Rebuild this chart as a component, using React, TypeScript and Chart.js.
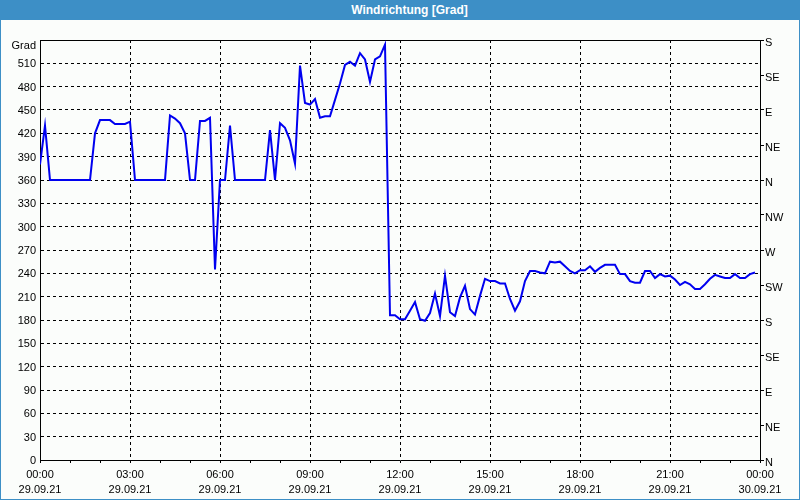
import React, { useEffect, useRef } from 'react';
import { Chart, registerables } from 'chart.js';

Chart.register(...registerables);

const TITLE = 'Windrichtung [Grad]';
const Y_UNIT = 'Grad';
const X_TICK_TIMES = ['00:00', '03:00', '06:00', '09:00', '12:00', '15:00', '18:00', '21:00', '00:00'];
const X_TICK_DATES = ['29.09.21', '29.09.21', '29.09.21', '29.09.21', '29.09.21', '29.09.21', '29.09.21', '29.09.21', '30.09.21'];
const COMPASS_LABELS = ['N', 'NE', 'E', 'SE', 'S', 'SW', 'W', 'NW', 'N', 'NE', 'E', 'SE', 'S'];
const SAMPLE_STEP_MIN = 10;

// wind direction, one value every 10 minutes from 29.09.21 00:00
const DIRECTION = [
  380, 430, 360, 360, 360, 360, 360, 360, 360, 360,
  360, 420, 437, 437, 437, 432, 432, 432, 435, 360,
  360, 360, 360, 360, 360, 360, 443, 439, 433, 420,
  360, 360, 436, 436, 440, 245, 360, 360, 430, 360,
  360, 360, 360, 360, 360, 360, 424, 360, 433, 427,
  411, 381, 507, 459, 457, 464, 440, 442, 442, 463,
  484, 508, 512, 507, 523, 515, 486, 515, 519, 534,
  186, 186, 181, 181, 192, 203, 181, 179, 189, 214,
  185, 237, 190, 185, 209, 224, 194, 187, 211, 233,
  230, 230, 227, 227, 207, 192, 204, 230, 243, 243,
  241, 240, 255, 254, 255, 249, 243, 240, 244, 244,
  249, 242, 247, 251, 251, 251, 239, 239, 230, 228,
  228, 243, 243, 234, 239, 236, 237, 232, 225, 229,
  226, 220, 220, 226, 233, 238, 236, 234, 234, 239,
  234, 234, 239, 241,
];

const framePlugin = {
  id: 'frame',
  beforeDatasetsDraw(chart: any) {
    const { ctx, chartArea } = chart;
    ctx.save();
    ctx.strokeStyle = '#000';
    ctx.lineWidth = 1;
    ctx.beginPath();
    ctx.moveTo(chartArea.left, Math.floor(chartArea.top) + 0.5);
    ctx.lineTo(chartArea.right + 1, Math.floor(chartArea.top) + 0.5);
    ctx.stroke();
    ctx.restore();
  },
  afterDraw(chart: any) {
    const { ctx, chartArea } = chart;
    ctx.save();
    ctx.font = '11px "Liberation Sans", Arial, sans-serif';
    ctx.fillStyle = '#000';
    ctx.textAlign = 'right';
    ctx.textBaseline = 'middle';
    ctx.fillText(Y_UNIT, chartArea.left - 4, chartArea.top + 6);
    ctx.restore();
  },
};

export default function App() {
  const ref = useRef<HTMLCanvasElement | null>(null);

  useEffect(() => {
    document.body.style.margin = '0';
    Chart.defaults.font.family = '"Liberation Sans", Arial, sans-serif';
    Chart.defaults.font.size = 11;
    Chart.defaults.color = '#000';

    const points = DIRECTION.map((v, i) => ({ x: i * SAMPLE_STEP_MIN, y: v }));

    const chart = new Chart(ref.current as HTMLCanvasElement, {
      type: 'line',
      data: {
        datasets: [
          {
            data: points,
            borderColor: '#0000f0',
            borderWidth: 2,
            pointRadius: 0,
            tension: 0,
            fill: false,
          },
        ],
      },
      options: {
        animation: false,
        responsive: false,
        events: [],
        layout: { padding: { top: 20, left: 0, right: 0, bottom: 0 } },
        plugins: {
          legend: { display: false },
          tooltip: { enabled: false },
          title: { display: false },
        },
        scales: {
          x: {
            type: 'linear',
            position: 'bottom',
            min: 0,
            max: 1440,
            afterFit: (s: any) => {
              s.height = 39;
            },
            ticks: {
              stepSize: 60,
              autoSkip: false,
              maxRotation: 0,
              minRotation: 0,
              padding: 4,
              color: '#000',
              font: { size: 11, lineHeight: 1.4 },
              callback: (v: any) => {
                const m = Math.round(Number(v));
                if (m % 180 !== 0) return '';
                const i = m / 180;
                return [X_TICK_TIMES[i], X_TICK_DATES[i]];
              },
            },
            grid: {
              color: (ctx: any) =>
                ctx.tick && Math.round(ctx.tick.value) % 180 === 0 ? '#000' : 'rgba(0,0,0,0)',
              tickColor: '#000',
              tickLength: 3,
              lineWidth: 1,
            },
            border: { color: '#000', width: 1, dash: [3, 3] },
          },
          y: {
            position: 'left',
            min: 0,
            max: 540,
            afterFit: (s: any) => {
              s.width = 39;
            },
            ticks: {
              stepSize: 30,
              padding: 4,
              labelOffset: 1,
              color: '#000',
              callback: (v: any) => (Number(v) >= 540 ? '' : String(v)),
            },
            grid: { color: '#000', drawTicks: false, lineWidth: 1 },
            border: { color: '#000', width: 1, dash: [3, 3] },
          },
          y2: {
            position: 'right',
            min: 0,
            max: 540,
            afterFit: (s: any) => {
              s.width = 39;
            },
            ticks: {
              stepSize: 45,
              padding: 1,
              labelOffset: 3,
              color: '#000',
              callback: (v: any) => COMPASS_LABELS[Math.round(Number(v) / 45)],
            },
            grid: { drawOnChartArea: false, tickColor: '#000', tickLength: 4 },
            border: { color: '#000', width: 1 },
          },
        },
      },
      plugins: [framePlugin],
    } as any);

    return () => chart.destroy();
  }, []);

  return (
    <div style={{ width: 800, height: 500, background: '#3d8fc6', position: 'relative', overflow: 'hidden' }}>
      <div
        style={{
          height: 20,
          lineHeight: '20px',
          color: '#fff',
          fontFamily: '"Liberation Sans", Arial, sans-serif',
          fontWeight: 'bold',
          fontSize: 12,
          textAlign: 'center',
          paddingLeft: 19,
          boxSizing: 'border-box',
        }}
      >
        {TITLE}
      </div>
      <div style={{ position: 'absolute', left: 1, top: 20, width: 798, height: 479, background: '#fbfdfb' }}>
        <canvas ref={ref} width={798} height={479} style={{ display: 'block' }} />
      </div>
    </div>
  );
}
